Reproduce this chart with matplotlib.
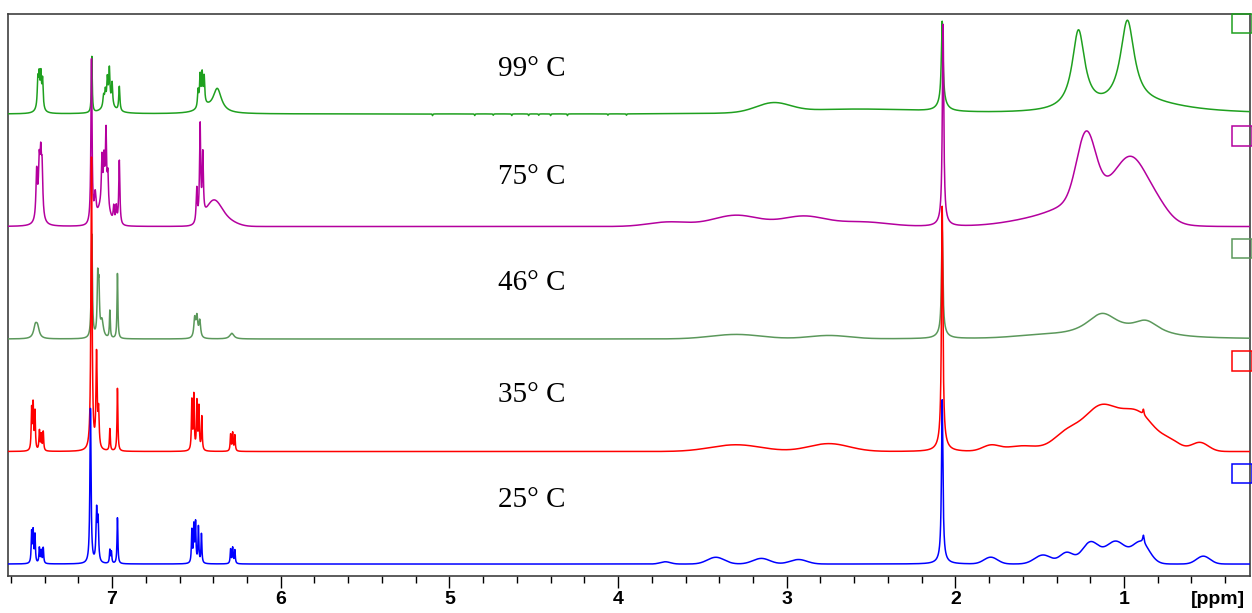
import numpy as np
import matplotlib
matplotlib.use("Agg")
import matplotlib.pyplot as plt
from matplotlib.patches import Rectangle
from matplotlib.ticker import MultipleLocator

# spectra, bottom to top
temps = ["25° C", "35° C", "46° C", "75° C", "99° C"]
colors = ["#0000ff", "#ff0000", "#5b985b", "#b4009e", "#1fa01f"]

# sharp lines: (ppm, height, half width) -> lorentzian
# broad humps: (ppm, height, sigma) -> gaussian
# heights are in units of the stacking offset
lines_25 = [(7.477, 0.27, 0.003), (7.468, 0.28, 0.003), (7.457, 0.25, 0.003),
            (7.431, 0.14, 0.003), (7.420, 0.11, 0.003), (7.408, 0.14, 0.003),
            (7.128, 1.38, 0.004), (7.092, 0.45, 0.004), (7.083, 0.36, 0.004),
            (7.013, 0.12, 0.003), (7.004, 0.10, 0.003), (6.968, 0.41, 0.003),
            (6.527, 0.29, 0.003), (6.515, 0.33, 0.003), (6.505, 0.35, 0.003),
            (6.488, 0.32, 0.003), (6.470, 0.26, 0.003),
            (6.297, 0.13, 0.003), (6.285, 0.14, 0.003), (6.272, 0.12, 0.003),
            (2.078, 1.42, 0.005), (2.078, 0.04, 0.03), (0.885, 0.07, 0.005)]
humps_25 = [(3.72, 0.02, 0.03), (3.42, 0.06, 0.05), (3.15, 0.05, 0.05),
            (2.93, 0.04, 0.05), (1.79, 0.06, 0.04), (1.48, 0.08, 0.05),
            (1.34, 0.10, 0.04), (1.20, 0.19, 0.05), (1.05, 0.20, 0.06),
            (0.90, 0.19, 0.05), (0.53, 0.07, 0.04)]

lines_35 = [(7.477, 0.36, 0.003), (7.468, 0.40, 0.003), (7.457, 0.34, 0.003),
            (7.431, 0.18, 0.003), (7.420, 0.14, 0.003), (7.408, 0.17, 0.003),
            (7.122, 2.60, 0.004), (7.092, 0.84, 0.004), (7.080, 0.32, 0.004),
            (7.013, 0.20, 0.003), (6.968, 0.56, 0.003),
            (6.527, 0.44, 0.003), (6.515, 0.49, 0.003), (6.497, 0.44, 0.003),
            (6.485, 0.38, 0.003), (6.468, 0.30, 0.003),
            (6.297, 0.15, 0.003), (6.285, 0.16, 0.003), (6.272, 0.14, 0.003),
            (2.078, 2.10, 0.005), (2.078, 0.08, 0.03), (0.885, 0.05, 0.004)]
humps_35 = [(3.30, 0.06, 0.15), (2.75, 0.07, 0.12), (1.79, 0.05, 0.05),
            (1.60, 0.05, 0.10), (1.34, 0.15, 0.08), (1.14, 0.38, 0.10),
            (0.92, 0.33, 0.10), (0.72, 0.07, 0.06), (0.55, 0.08, 0.05)]

lines_46 = [(7.455, 0.10, 0.012), (7.442, 0.09, 0.012),
            (7.120, 0.92, 0.004), (7.085, 0.50, 0.004), (7.078, 0.40, 0.004),
            (7.060, 0.15, 0.010), (7.013, 0.25, 0.003), (6.968, 0.58, 0.003),
            (6.510, 0.17, 0.006), (6.497, 0.18, 0.006), (6.480, 0.15, 0.006),
            (6.290, 0.05, 0.015), (2.078, 0.92, 0.005), (2.078, 0.06, 0.03),
            (1.130, 0.21, 0.12), (0.870, 0.13, 0.10)]
humps_46 = [(3.30, 0.04, 0.15), (2.75, 0.03, 0.12), (1.50, 0.02, 0.15)]

lines_75 = [(7.447, 0.42, 0.005), (7.432, 0.42, 0.005), (7.423, 0.45, 0.005),
            (7.415, 0.40, 0.005), (7.430, 0.08, 0.020),
            (7.122, 1.46, 0.004), (7.100, 0.22, 0.006), (7.060, 0.40, 0.004),
            (7.048, 0.36, 0.004), (7.036, 0.64, 0.004), (7.025, 0.28, 0.004),
            (6.990, 0.14, 0.004), (6.975, 0.15, 0.004), (6.957, 0.58, 0.004),
            (6.498, 0.30, 0.004), (6.478, 0.85, 0.004), (6.462, 0.55, 0.004),
            (2.073, 1.75, 0.005), (2.073, 0.05, 0.03)]
humps_75 = [(7.05, 0.20, 0.030), (6.40, 0.20, 0.045), (6.33, 0.06, 0.060),
            (3.70, 0.04, 0.12), (3.30, 0.10, 0.14), (2.90, 0.09, 0.13),
            (2.55, 0.04, 0.15),
            (1.225, 0.56, 0.055), (0.95, 0.40, 0.09), (1.12, 0.30, 0.20),
            (0.80, 0.10, 0.07), (1.50, 0.06, 0.20)]

lines_99 = [(7.440, 0.24, 0.004), (7.432, 0.25, 0.004), (7.422, 0.27, 0.004),
            (7.412, 0.25, 0.004), (7.430, 0.06, 0.020),
            (7.120, 0.50, 0.003), (7.050, 0.10, 0.005), (7.040, 0.12, 0.004),
            (7.028, 0.22, 0.004), (7.016, 0.31, 0.004), (7.000, 0.20, 0.004),
            (6.957, 0.22, 0.004), (7.020, 0.08, 0.040),
            (6.490, 0.15, 0.004), (6.478, 0.27, 0.004), (6.466, 0.27, 0.004),
            (6.454, 0.24, 0.004), (6.376, 0.21, 0.030), (6.450, 0.05, 0.050),
            (2.078, 0.72, 0.006), (2.078, 0.08, 0.03),
            (1.270, 0.70, 0.045), (0.980, 0.75, 0.050), (0.850, 0.08, 0.30),
            # small phase glitches below the baseline
            (5.10, -0.015, 0.002), (4.85, -0.015, 0.002), (4.74, -0.012, 0.002),
            (4.63, -0.015, 0.002), (4.53, -0.015, 0.002), (4.47, -0.012, 0.002),
            (4.40, -0.015, 0.002), (4.30, -0.015, 0.002), (4.06, -0.012, 0.002),
            (3.95, -0.012, 0.002)]
humps_99 = [(3.08, 0.08, 0.10), (2.60, 0.04, 0.40)]

all_lines = [lines_25, lines_35, lines_46, lines_75, lines_99]
all_humps = [humps_25, humps_35, humps_46, humps_75, humps_99]

ppm = np.linspace(7.62, 0.25, 7000)


def spectrum(lines, humps):
    y = np.zeros_like(ppm)
    for c, h, w in lines:
        y += h / (1 + ((ppm - c) / w) ** 2)
    for c, h, s in humps:
        y += h * np.exp(-0.5 * ((ppm - c) / s) ** 2)
    return y


fig = plt.figure(figsize=(12.52, 6.13), dpi=100)
ax = fig.add_axes([8 / 1252, 1 - 575.5 / 613, 1242 / 1252, 561.5 / 613])

# lower traces drawn last so they sit on top
for i in reversed(range(len(temps))):
    ax.plot(ppm, spectrum(all_lines[i], all_humps[i]) + i,
            color=colors[i], lw=1.1, zorder=2 + (5 - i))
    ax.add_patch(Rectangle((0.9855, i + 0.72), 0.016, 0.17,
                           transform=ax.get_yaxis_transform(),
                           fill=False, edgecolor=colors[i], lw=1.1,
                           clip_on=False, zorder=10))

label_y = [0.135, 0.322, 0.521, 0.71, 0.902]
for i, t in enumerate(temps):
    ax.text(4.51, label_y[i], t, transform=ax.get_xaxis_transform(),
            ha="center", va="center", fontsize=21, family="Liberation Serif")

ax.set_xlim(7.617, 0.253)
ax.set_ylim(-0.102, 4.889)
ax.set_yticks([])
ax.xaxis.set_major_locator(MultipleLocator(1))
ax.xaxis.set_minor_locator(MultipleLocator(0.2))
ax.tick_params(axis="x", which="major", direction="out", length=8.5, width=1,
               pad=3, labelsize=14)
ax.tick_params(axis="x", which="minor", direction="out", length=5, width=1)
for lab in ax.get_xticklabels():
    lab.set_fontfamily("Liberation Sans")
    lab.set_fontweight("bold")
for sp in ax.spines.values():
    sp.set_color("#404040")
    sp.set_linewidth(1.2)

fig.text(1218 / 1252, 1 - 600 / 613, "[ppm]", ha="center", va="center",
         fontsize=14, fontweight="bold", family="Liberation Sans")

fig.savefig("out.png", dpi=100)
